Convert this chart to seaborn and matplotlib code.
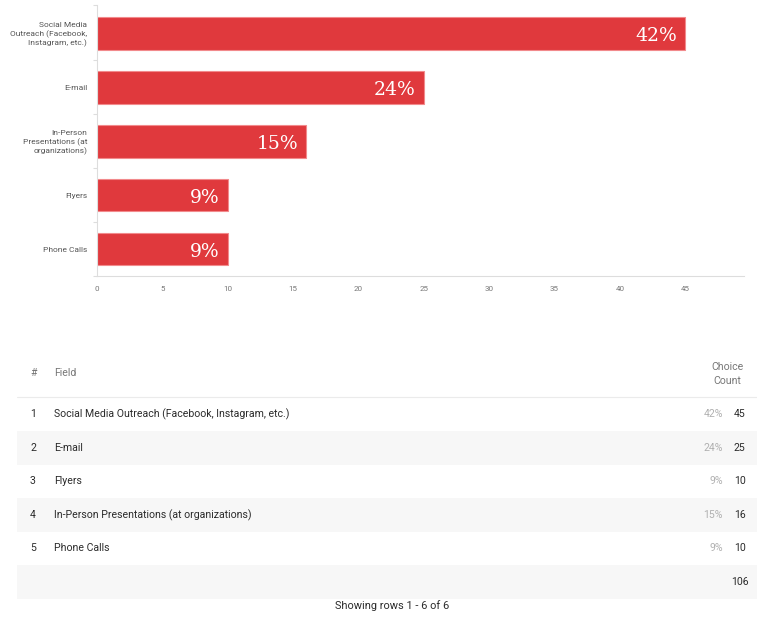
import matplotlib
matplotlib.use("Agg")
import matplotlib.pyplot as plt
import seaborn as sns
import pandas as pd
from matplotlib.patches import Rectangle
from matplotlib.ticker import FixedLocator

# ---- data ----
bar_labels = ["Social Media\nOutreach (Facebook,\nInstagram, etc.)", "E-mail",
              "In-Person\nPresentations (at\norganizations)", "Flyers", "Phone Calls"]
bar_counts = [45, 25, 16, 10, 10]
bar_pcts = ["42%", "24%", "15%", "9%", "9%"]
x_ticks = [0, 5, 10, 15, 20, 25, 30, 35, 40, 45]

table_nums = ["1", "2", "3", "4", "5"]
table_fields = ["Social Media Outreach (Facebook, Instagram, etc.)", "E-mail", "Flyers",
                "In-Person Presentations (at organizations)", "Phone Calls"]
table_pcts = ["42%", "24%", "9%", "15%", "9%"]
table_counts = ["45", "25", "10", "16", "10"]
table_total = "106"
footer = "Showing rows 1 - 6 of 6"

sns.set_theme(style="white")
plt.rcParams["font.family"] = ["Roboto", "DejaVu Sans"]

W, H = 757, 617
fig = plt.figure(figsize=(W / 100, H / 100), dpi=100)

# ---- bar chart ----
ax = fig.add_axes([97 / W, 1 - 276 / H, (744 - 97) / W, (276 - 5) / H])
df = pd.DataFrame({"label": bar_labels, "count": bar_counts})
red = "#E0393D"
sns.barplot(data=df, x="count", y="label", orient="h", color=red, width=0.61,
            edgecolor="#F28A8C", linewidth=0.8, saturation=1, ax=ax)
ax.set_xlim(0, 49.5)
ax.set_ylim(4.5, -0.52)
ax.set_xlabel("")
ax.set_ylabel("")
ax.set_xticks(x_ticks)
ax.tick_params(axis="x", length=0, pad=7, labelsize=5.8, labelcolor="#777777")
ax.tick_params(axis="y", which="major", length=0, pad=7, labelsize=6.0, labelcolor="#555555")
ax.yaxis.set_minor_locator(FixedLocator([-0.52, 0.5, 1.5, 2.5, 3.5, 4.5]))
ax.tick_params(axis="y", which="minor", left=True, length=3, width=0.8, color="#dddddd")
for t in ax.get_yticklabels():
    t.set_linespacing(1.3)
for s in ["top", "right"]:
    ax.spines[s].set_visible(False)
for s in ["left", "bottom"]:
    ax.spines[s].set_color("#dddddd")
    ax.spines[s].set_linewidth(0.8)

for i, (v, p) in enumerate(zip(bar_counts, bar_pcts)):
    ax.text(v - 0.6, i + 0.05, p, ha="right", va="center", color="white",
            fontsize=13.5, family=["DejaVu Serif"])

# ---- table ----
tx = fig.add_axes([0, 0, 1, 1], zorder=-1)
tx.set_xlim(0, W)
tx.set_ylim(H, 0)
tx.axis("off")

hdr_col = "#777777"
txt_col = "#2b2b2b"
fs = 7.6
tx.text(30, 373, "#", ha="left", va="center", fontsize=fs, color=hdr_col)
tx.text(54, 373, "Field", ha="left", va="center", fontsize=fs, color=hdr_col)
tx.text(727, 374, "Choice\nCount", ha="center", va="center", fontsize=fs,
        color=hdr_col, linespacing=1.6)
tx.plot([17, 757], [397, 397], color="#ebebeb", lw=0.8)

row_y = [414, 448, 481, 515, 548, 582]
for k, y in enumerate(row_y):
    if k % 2 == 1:
        tx.add_patch(Rectangle((17, y - 17), 740, 34, color="#f7f7f7", lw=0))
for k in range(5):
    y = row_y[k]
    tx.text(33, y, table_nums[k], ha="center", va="center", fontsize=fs, color=txt_col)
    tx.text(54, y, table_fields[k], ha="left", va="center", fontsize=fs, color=txt_col)
    tx.text(723, y, table_pcts[k], ha="right", va="center", fontsize=fs, color="#b0b0b0")
    tx.text(734, y, table_counts[k], ha="left", va="center", fontsize=fs, color=txt_col)
tx.text(749, row_y[5], table_total, ha="right", va="center", fontsize=fs, color=txt_col)
tx.text(392, 606, footer, ha="center", va="center", fontsize=fs + 0.3, color=txt_col)

fig.savefig("out.png", dpi=100)
